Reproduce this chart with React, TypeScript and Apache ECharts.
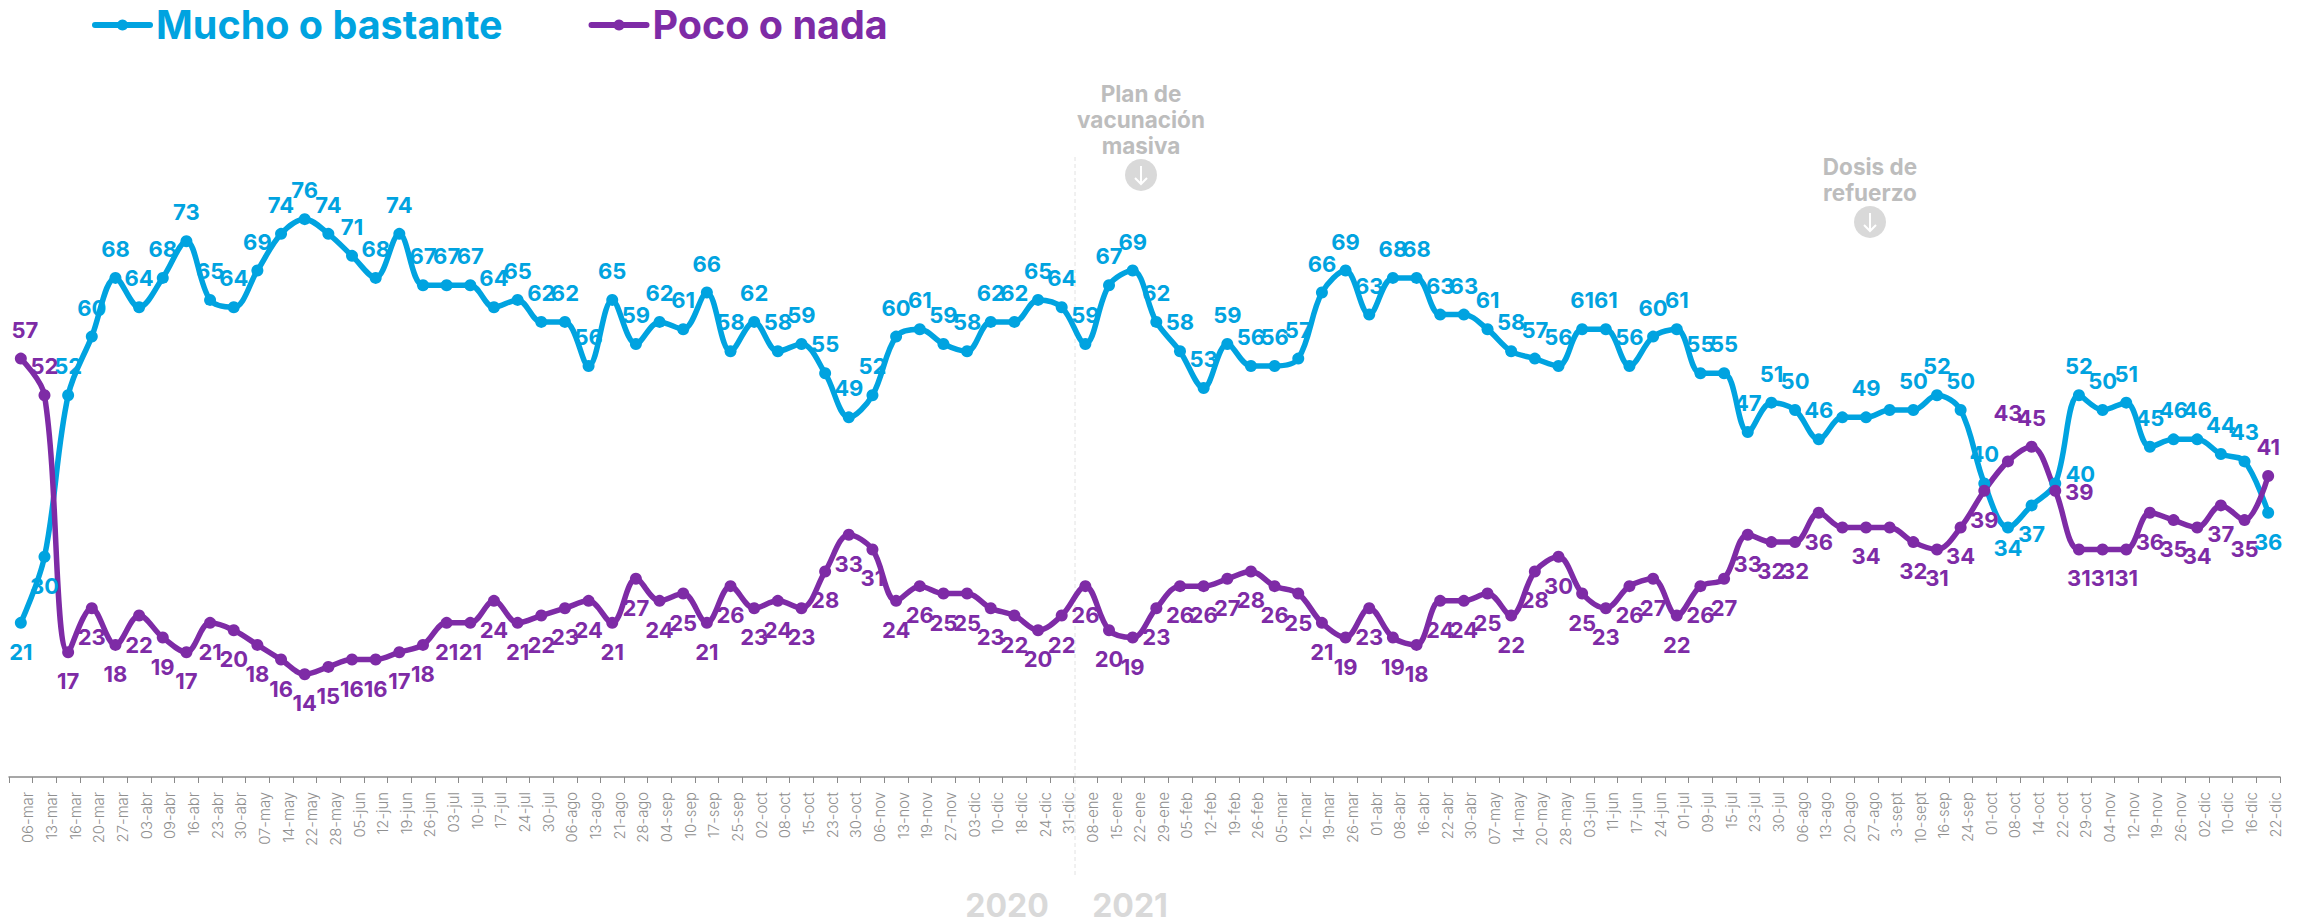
import React, { useEffect, useRef } from "react";
import * as echarts from "echarts";

const categories = [
  "06-mar","13-mar","16-mar","20-mar","27-mar","03-abr","09-abr","16-abr","23-abr","30-abr","07-may","14-may","22-may","28-may","05-jun","12-jun","19-jun","26-jun","03-jul","10-jul","17-jul","24-jul","30-jul","06-ago","13-ago","21-ago","28-ago","04-sep","10-sep","17-sep","25-sep","02-oct","08-oct","15-oct","23-oct","30-oct","06-nov","13-nov","19-nov","27-nov","03-dic","10-dic","18-dic","24-dic","31-dic",
  "08-ene","15-ene","22-ene","29-ene","05-feb","12-feb","19-feb","26-feb","05-mar","12-mar","19-mar","26-mar","01-abr","08-abr","16-abr","22-abr","30-abr","07-may","14-may","20-may","28-may","03-jun","11-jun","17-jun","24-jun","01-jul","09-jul","15-jul","23-jul","30-jul","06-ago","13-ago","20-ago","27-ago","3-sept","10-sept","16-sep","24-sep","01-oct","08-oct","14-oct","22-oct","29-oct","04-nov","12-nov","19-nov","26-nov","02-dic","10-dic","16-dic","22-dic",
];

const mucho = [
  21,30,52,60,68,64,68,73,65,64,69,74,76,74,71,68,74,67,67,67,64,65,62,62,56,65,59,62,61,66,58,62,58,59,55,49,52,60,61,59,58,62,62,65,64,
  59,67,69,62,58,53,59,56,56,57,66,69,63,68,68,63,63,61,58,57,56,61,61,56,60,61,55,55,47,51,50,46,49,49,50,50,52,50,40,34,37,40,52,50,51,45,46,46,44,43,36,
];
const poco = [
  57,52,17,23,18,22,19,17,21,20,18,16,14,15,16,16,17,18,21,21,24,21,22,23,24,21,27,24,25,21,26,23,24,23,28,33,31,24,26,25,25,23,22,20,22,
  26,20,19,23,26,26,27,28,26,25,21,19,23,19,18,24,24,25,22,28,30,25,23,26,27,22,26,27,33,32,32,36,34,34,34,32,31,34,39,43,45,39,31,31,31,36,35,34,37,35,41,
];

const BLUE = "#00A3E0";
const PURPLE = "#7E2BA6";
const GREY_TEXT = "#bdbdbd";
const GREY_SHAPE = "#d9d9d9";
const FONT = "Inter, 'Open Sans', sans-serif";

// Label exceptions, by point index: blue labels sit above, purple labels below
const muchoBelow = [0, 1, 84, 85, 95];
const pocoAbove = [0, 1, 84, 85, 95];
const hiddenLabels = [77, 79];
const muchoOffsets: Record<number, number[]> = { 84: [0, -8], 86: [25, 20] };
const pocoOffsets: Record<number, number[]> = { 0: [4, 0], 84: [0, -19], 86: [24, -28] };

function points(values: number[], defaultPos: string, flipped: number[], offsets: Record<number, number[]>) {
  const other = defaultPos === "top" ? "bottom" : "top";
  return values.map((value, i) => ({
    value,
    label: {
      show: !hiddenLabels.includes(i),
      position: flipped.includes(i) ? other : defaultPos,
      offset: offsets[i] || [0, 0],
    },
  }));
}

function lineSeries(name: string, color: string, data: any[]) {
  return {
    name,
    type: "line",
    data,
    smooth: 0.35,
    showSymbol: true,
    showAllSymbol: true,
    symbol: "circle",
    symbolSize: 12,
    lineStyle: { color, width: 5.5, cap: "round" },
    itemStyle: { color },
    label: { show: true, color, fontFamily: FONT, fontWeight: 700, fontSize: 22, distance: 12 },
    emphasis: { disabled: true },
  };
}

function note(lines: string[], cx: number, firstY: number, circleY: number) {
  const texts = lines.map((t, i) => ({
    type: "text",
    style: {
      text: t,
      x: cx,
      y: firstY + i * 26,
      fill: GREY_TEXT,
      font: `700 22.5px ${FONT}`,
      textAlign: "center",
      textVerticalAlign: "middle",
    },
  }));
  return [
    ...texts,
    { type: "circle", shape: { cx, cy: circleY, r: 16 }, style: { fill: GREY_SHAPE } },
    { type: "line", shape: { x1: cx, y1: circleY - 9, x2: cx, y2: circleY + 9 }, style: { stroke: "#fff", lineWidth: 2 } },
    { type: "polyline", shape: { points: [[cx - 6, circleY + 3], [cx, circleY + 9], [cx + 6, circleY + 3]] }, style: { stroke: "#fff", lineWidth: 2, fill: "none" } },
  ];
}

function yearLabel(text: string, x: number) {
  return {
    type: "text",
    style: { text, x, y: 905, fill: GREY_SHAPE, font: `700 32px ${FONT}`, textAlign: "center", textVerticalAlign: "middle" },
  };
}

export default function App() {
  const ref = useRef<HTMLDivElement>(null);
  useEffect(() => {
    const chart = echarts.init(ref.current!, undefined, { renderer: "svg" });
    chart.setOption({
      animation: false,
      backgroundColor: "#fff",
      legend: {
        left: 92,
        top: 5,
        padding: 0,
        itemWidth: 55,
        itemHeight: 14,
        itemGap: 86,
        lineStyle: { width: 6 },
        textStyle: { fontFamily: FONT, fontWeight: 700, fontSize: 39.5, padding: [0, 0, 0, 1] },
        data: [
          { name: "Mucho o bastante", textStyle: { color: BLUE } },
          { name: "Poco o nada", textStyle: { color: PURPLE } },
        ],
      },
      grid: { left: 9, right: 30, top: 43, bottom: 146 },
      xAxis: {
        type: "category",
        data: categories,
        boundaryGap: true,
        axisLine: { lineStyle: { color: "#8a8a8a", width: 1.5 } },
        axisTick: { show: true, length: 6, interval: 0, alignWithLabel: false, lineStyle: { color: "#8a8a8a" } },
        axisLabel: {
          interval: 0,
          rotate: 90,
          margin: 15,
          color: "#8f8f8f",
          fontFamily: FONT,
          fontWeight: 300,
          fontSize: 14.8,
          verticalAlign: "top",
        },
      },
      yAxis: { type: "value", min: 0, max: 100, show: false, splitLine: { show: false } },
      series: [
        lineSeries("Mucho o bastante", BLUE, points(mucho, "top", muchoBelow, muchoOffsets)),
        lineSeries("Poco o nada", PURPLE, points(poco, "bottom", pocoAbove, pocoOffsets)),
      ],
      graphic: [
        {
          type: "line",
          z: 0,
          shape: { x1: 1075, y1: 157, x2: 1075, y2: 875 },
          style: { stroke: "#e2e2e2", lineWidth: 1, lineDash: [4, 3] },
        },
        ...note(["Plan de", "vacunación", "masiva"], 1141, 93, 175),
        ...note(["Dosis de", "refuerzo"], 1870, 166, 222),
        yearLabel("2020", 1007),
        yearLabel("2021", 1130),
      ],
    });
    return () => chart.dispose();
  }, []);
  return <div ref={ref} style={{ position: "absolute", left: 0, top: 0, width: 2310, height: 923 }} />;
}
